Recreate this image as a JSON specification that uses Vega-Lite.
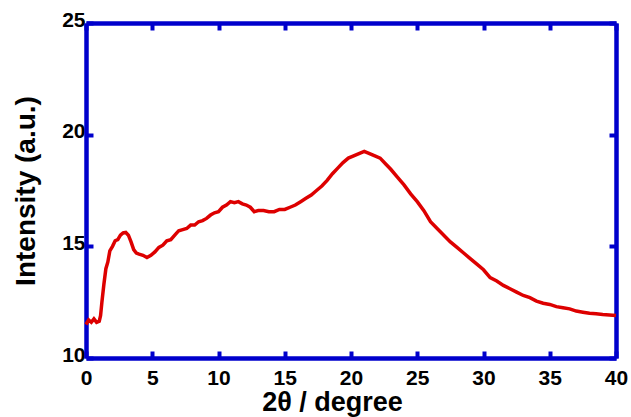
{
  "$schema": "https://vega.github.io/schema/vega-lite/v6.json",
  "width": 530,
  "height": 335,
  "autosize": "none",
  "padding": {"left": 86, "top": 23, "right": 15, "bottom": 59},
  "background": "white",
  "config": {
    "view": {"stroke": null},
    "axis": {
      "domainColor": "#0000cc",
      "domainWidth": 4.5,
      "tickColor": "#0000cc",
      "tickWidth": 4,
      "tickSize": -7,
      "grid": false,
      "labelFlush": false,
      "labelOverlap": false,
      "labelFont": "Liberation Sans",
      "labelFontWeight": "bold",
      "labelFontSize": 21,
      "labelColor": "black",
      "titleFont": "Liberation Sans",
      "titleFontWeight": "bold",
      "titleColor": "black",
      "zindex": 1
    }
  },
  "data": {"values": [
    {"x":0.0,"y":11.5},{"x":0.2,"y":11.7},{"x":0.4,"y":11.6},{"x":0.6,"y":11.75},{"x":0.8,"y":11.6},{"x":1.0,"y":11.65},{"x":1.1,"y":11.9},{"x":1.2,"y":12.5},{"x":1.35,"y":13.3},{"x":1.5,"y":14.0},{"x":1.65,"y":14.3},{"x":1.8,"y":14.8},{"x":2.0,"y":15.0},{"x":2.2,"y":15.25},{"x":2.4,"y":15.3},{"x":2.6,"y":15.5},{"x":2.8,"y":15.6},{"x":3.0,"y":15.62},{"x":3.2,"y":15.5},{"x":3.4,"y":15.2},{"x":3.6,"y":14.85},{"x":3.8,"y":14.7},{"x":4.0,"y":14.65},{"x":4.3,"y":14.6},{"x":4.6,"y":14.5},{"x":4.9,"y":14.6},{"x":5.2,"y":14.75},{"x":5.5,"y":14.95},{"x":5.8,"y":15.05},{"x":6.1,"y":15.25},{"x":6.4,"y":15.3},{"x":6.7,"y":15.5},{"x":7.0,"y":15.7},{"x":7.3,"y":15.75},{"x":7.6,"y":15.8},{"x":7.9,"y":15.95},{"x":8.2,"y":15.95},{"x":8.5,"y":16.1},{"x":8.8,"y":16.15},{"x":9.1,"y":16.25},{"x":9.4,"y":16.4},{"x":9.7,"y":16.5},{"x":10.0,"y":16.55},{"x":10.3,"y":16.75},{"x":10.6,"y":16.85},{"x":10.9,"y":17.0},{"x":11.2,"y":16.95},{"x":11.5,"y":17.0},{"x":11.8,"y":16.9},{"x":12.1,"y":16.85},{"x":12.4,"y":16.75},{"x":12.7,"y":16.55},{"x":13.0,"y":16.6},{"x":13.4,"y":16.6},{"x":13.8,"y":16.55},{"x":14.2,"y":16.55},{"x":14.6,"y":16.65},{"x":15.0,"y":16.65},{"x":15.4,"y":16.75},{"x":15.8,"y":16.85},{"x":16.2,"y":17.0},{"x":16.6,"y":17.15},{"x":17.0,"y":17.3},{"x":17.4,"y":17.5},{"x":17.8,"y":17.7},{"x":18.2,"y":17.95},{"x":18.6,"y":18.25},{"x":19.0,"y":18.5},{"x":19.4,"y":18.75},{"x":19.8,"y":18.95},{"x":20.2,"y":19.05},{"x":20.6,"y":19.15},{"x":21.0,"y":19.25},{"x":21.4,"y":19.15},{"x":21.8,"y":19.05},{"x":22.2,"y":18.95},{"x":22.6,"y":18.7},{"x":23.0,"y":18.45},{"x":23.5,"y":18.1},{"x":24.0,"y":17.75},{"x":24.5,"y":17.35},{"x":25.0,"y":17.0},{"x":25.5,"y":16.6},{"x":26.0,"y":16.1},{"x":26.5,"y":15.8},{"x":27.0,"y":15.5},{"x":27.5,"y":15.2},{"x":28.0,"y":14.95},{"x":28.5,"y":14.7},{"x":29.0,"y":14.45},{"x":29.5,"y":14.2},{"x":30.0,"y":13.95},{"x":30.5,"y":13.6},{"x":31.0,"y":13.45},{"x":31.5,"y":13.25},{"x":32.0,"y":13.1},{"x":32.5,"y":12.95},{"x":33.0,"y":12.8},{"x":33.5,"y":12.7},{"x":34.0,"y":12.55},{"x":34.5,"y":12.45},{"x":35.0,"y":12.4},{"x":35.5,"y":12.3},{"x":36.0,"y":12.25},{"x":36.5,"y":12.2},{"x":37.0,"y":12.1},{"x":37.5,"y":12.05},{"x":38.0,"y":12.0},{"x":38.5,"y":11.98},{"x":39.0,"y":11.95},{"x":39.5,"y":11.93},{"x":40.0,"y":11.9}
  ]},
  "layer": [
    {
      "mark": {"type": "line", "color": "#dd0000", "strokeWidth": 3.5},
      "encoding": {
        "x": {"field": "x", "type": "quantitative", "scale": {"domain": [0, 40], "nice": false},
              "axis": {"orient": "bottom", "values": [0,5,10,15,20,25,30,35,40], "labelPadding": 16, "title": "2θ / degree", "titleFontSize": 27, "titlePadding": 1, "titleX": 246}},
        "y": {"field": "y", "type": "quantitative", "scale": {"domain": [10, 25], "nice": false, "zero": false},
              "axis": {"orient": "left", "values": [10,15,20,25], "labelPadding": 8, "labelOffset": -3, "title": "Intensity (a.u.)", "titleFontSize": 28, "titlePadding": 21}}
      }
    },
    {
      "mark": {"type": "line", "opacity": 0},
      "encoding": {
        "x": {"field": "x", "type": "quantitative", "scale": {"domain": [0, 40], "nice": false},
              "axis": {"orient": "top", "values": [0,5,10,15,20,25,30,35,40], "labels": false, "title": null}},
        "y": {"field": "y", "type": "quantitative", "scale": {"domain": [10, 25], "nice": false, "zero": false},
              "axis": {"orient": "right", "values": [10,15,20,25], "labels": false, "title": null}}
      }
    }
  ],
  "resolve": {"axis": {"x": "independent", "y": "independent"}}
}
